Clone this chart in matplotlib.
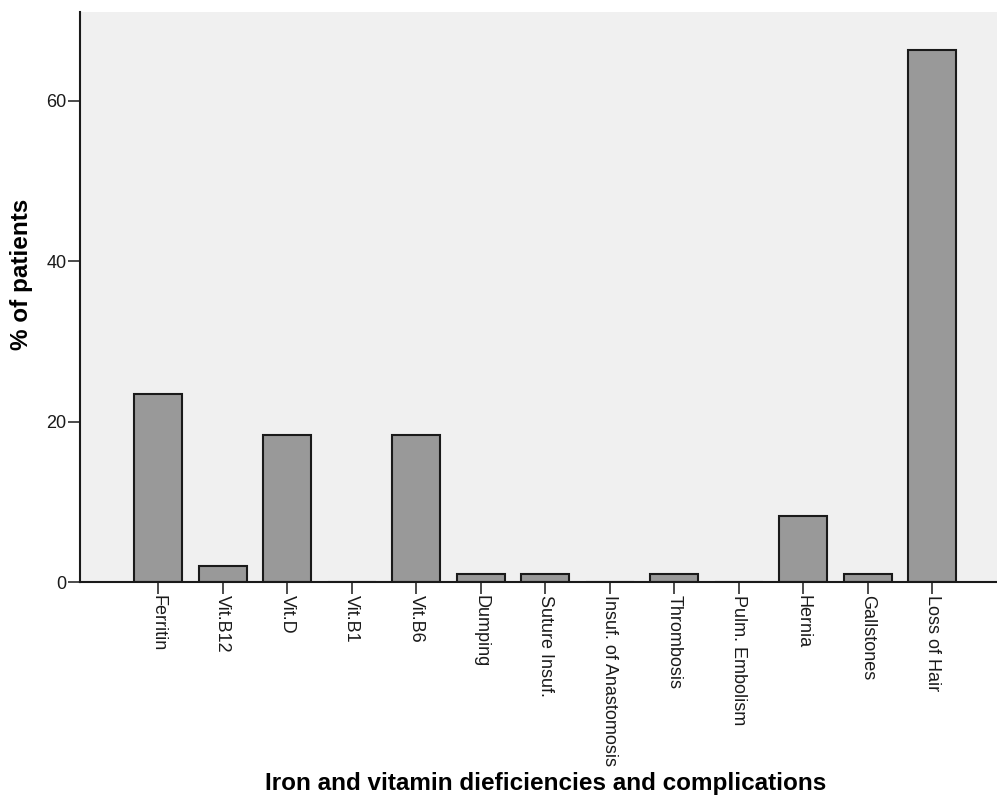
import numpy as np
from matplotlib import pyplot as plt

plt.rcParams['font.family'] = ['Liberation Sans', 'DejaVu Sans']

categories = ['Ferritin', 'Vit.B12', 'Vit.D', 'Vit.B1', 'Vit.B6', 'Dumping',
              'Suture Insuf.', 'Insuf. of Anastomosis', 'Thrombosis',
              'Pulm. Embolism', 'Hernia', 'Gallstones', 'Loss of Hair']
pct_patients = [23.5, 2.0, 18.4, 0.0, 18.4, 1.0, 1.0, 0.0, 1.0, 0.0, 8.2, 1.0, 66.3]
y_ticks = [0, 20, 40, 60]

fig = plt.figure(figsize=(9.97, 7.96), dpi=100)
ax = fig.add_axes([0.0802, 0.2688, 0.9198, 0.7162])
ax.set_facecolor('#f0f0f0')

x = np.arange(len(categories))
ax.bar(x, pct_patients, width=0.744, color='#999999', edgecolor='#1a1a1a', linewidth=1.5, zorder=3)

ax.set_xlim(-1.21, 13.0)
ax.set_ylim(0, 71.1)
ax.set_xticks(x)
ax.set_xticklabels(categories, rotation=270, va='top', ha='center')
ax.set_yticks(y_ticks)
ax.tick_params(axis='both', direction='out', length=8.6, width=1.1, colors='#1a1a1a', labelsize=13, pad=1)

for side in ['top', 'right']:
    ax.spines[side].set_visible(False)
for side in ['left', 'bottom']:
    ax.spines[side].set_linewidth(1.5)
    ax.spines[side].set_color('#1a1a1a')
    ax.spines[side].set_zorder(4)

ax.set_xlabel('Iron and vitamin dieficiencies and complications', fontsize=17.5, fontweight='bold')
ax.xaxis.set_label_coords(0.508, -0.353)
ax.xaxis.label.set_va('center')
ax.set_ylabel('% of patients', fontsize=17.5, fontweight='bold')
ax.yaxis.set_label_coords(-0.064, 0.539)
ax.yaxis.label.set_va('center')

fig.savefig('out.png', dpi=100)
